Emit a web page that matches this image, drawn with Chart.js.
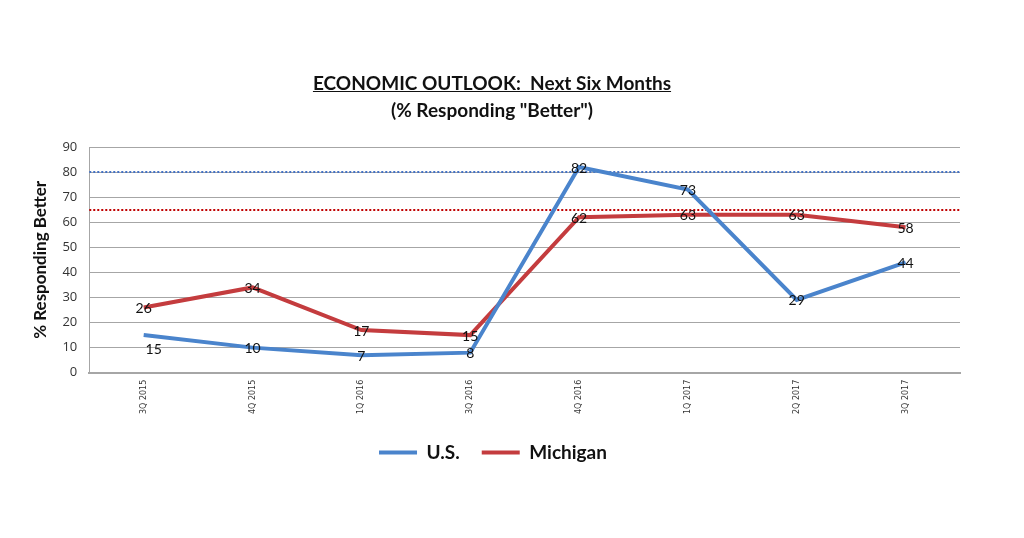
<!DOCTYPE html>
<html>
<head>
<meta charset="utf-8">
<script src="https://cdn.jsdelivr.net/npm/chart.js@4"></script>
<style>
    body { margin: 0; background: #fff; }
    #wrap { position: relative; width: 1024px; height: 538px; }
    #chart { position: absolute; left: 0; top: 0; }
    .title {
        position: absolute; left: 0; width: 984px; text-align: center;
        font-family: Lato, "Open Sans", sans-serif; font-weight: bold;
        font-size: 19px; color: #111;
    }
</style>
</head>
<body>
<div id="wrap">
    <canvas id="chart" width="1024" height="538"></canvas>
    <div class="title" style="top:71px"><u>ECONOMIC OUTLOOK:&nbsp; Next Six Months</u></div>
    <div class="title" style="top:98px">(% Responding "Better")</div>
</div>
<script>
const quarters = ["3Q 2015", "4Q 2015", "1Q 2016", "3Q 2016", "4Q 2016", "1Q 2017", "2Q 2017", "3Q 2017"];
const usValues = [15, 10, 7, 8, 82, 73, 29, 44];
const michiganValues = [26, 34, 17, 15, 62, 63, 63, 58];
// dotted reference lines (U.S. and Michigan)
const refValues = [80, 65];
const refColors = ["#4472c4", "#c00000"];

const blue = "#4a84cc";
const red = "#c43c3e";

// ===== reference lines across the whole plot =====
const refLines = {
    id: "refLines",
    beforeDatasetsDraw(chart) {
        const { ctx, chartArea, scales } = chart;
        ctx.save();
        ctx.lineWidth = 2;
        ctx.setLineDash([2, 2]);
        refValues.forEach((v, i) => {
            const y = Math.round(scales.y.getPixelForValue(v));
            ctx.strokeStyle = refColors[i];
            ctx.beginPath();
            ctx.moveTo(chartArea.left, y);
            ctx.lineTo(chartArea.right, y);
            ctx.stroke();
        });
        ctx.restore();
    }
};

// ===== value labels on points =====
const valueLabels = {
    id: "valueLabels",
    afterDatasetsDraw(chart) {
        const { ctx } = chart;
        ctx.save();
        ctx.font = "14px Lato, 'Open Sans', sans-serif";
        ctx.fillStyle = "#111";
        ctx.textAlign = "center";
        ctx.textBaseline = "middle";
        chart.data.datasets.forEach((ds, di) => {
            chart.getDatasetMeta(di).data.forEach((pt, i) => {
                let x = pt.x, y = pt.y;
                if (di === 0 && i === 0) { x += 10; y += 13; }
                ctx.fillText(ds.data[i], x, y + 1);
            });
        });
        ctx.restore();
    }
};

new Chart(document.getElementById("chart"), {
    type: "line",
    data: {
        labels: quarters,
        datasets: [
            {
                label: "U.S.",
                data: usValues,
                borderColor: blue,
                backgroundColor: blue,
                borderWidth: 4,
                pointRadius: 0,
                tension: 0
            },
            {
                label: "Michigan",
                data: michiganValues,
                borderColor: red,
                backgroundColor: red,
                borderWidth: 4,
                pointRadius: 0,
                tension: 0
            }
        ]
    },
    options: {
        responsive: false,
        animation: false,
        layout: { padding: { top: 147, left: 26, right: 64, bottom: 66 } },
        plugins: {
            tooltip: { enabled: false },
            legend: {
                position: "bottom",
                labels: {
                    boxWidth: 38,
                    boxHeight: 4,
                    padding: 22,
                    color: "#111",
                    font: { family: "Lato, 'Open Sans', sans-serif", size: 19, weight: "bold" },
                    generateLabels(chart) {
                        return chart.data.datasets.map((ds, i) => ({
                            text: ds.label,
                            fillStyle: ds.borderColor,
                            strokeStyle: ds.borderColor,
                            lineWidth: 0,
                            fontColor: "#111",
                            datasetIndex: i
                        }));
                    }
                }
            }
        },
        scales: {
            x: {
                offset: true,
                grid: { display: false, drawTicks: false },
                border: { color: "#a6a6a6", width: 2 },
                ticks: {
                    minRotation: 90,
                    maxRotation: 90,
                    padding: 7,
                    color: "#333",
                    font: { family: "'DejaVu Sans', sans-serif", size: 8 }
                }
            },
            y: {
                min: 0,
                max: 90,
                grid: { color: "#a6a6a6", lineWidth: 1, drawTicks: false },
                border: { color: "#a6a6a6", width: 1 },
                ticks: {
                    stepSize: 10,
                    padding: 12,
                    color: "#333",
                    font: { family: "'Open Sans', sans-serif", size: 13 }
                },
                title: {
                    display: true,
                    text: "% Responding Better",
                    color: "#111",
                    padding: { top: 4, bottom: 0 },
                    font: { family: "Lato, 'Open Sans', sans-serif", size: 17, weight: "bold" }
                }
            }
        }
    },
    plugins: [refLines, valueLabels]
});
</script>
</body>
</html>
